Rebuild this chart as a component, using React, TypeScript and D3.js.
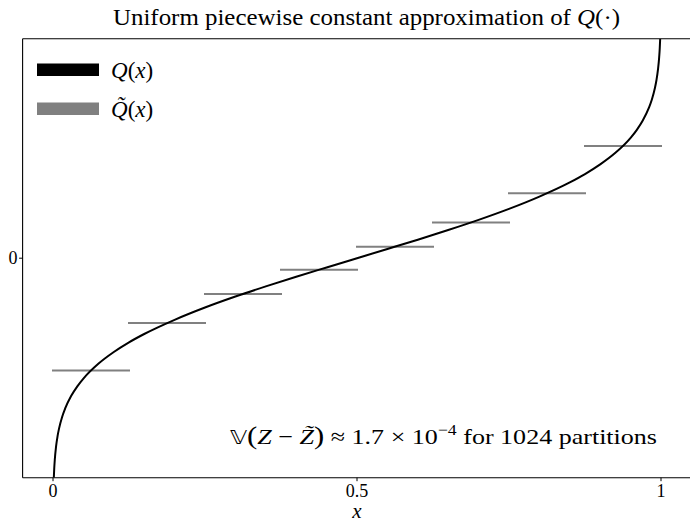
import React from "react";
import * as d3 from "d3";

// Q(x): standard normal quantile, sampled at these points
const curveX = [
  0.00135, 0.002, 0.003, 0.005, 0.0075, 0.01, 0.015, 0.02, 0.03, 0.04, 0.05,
  0.075, 0.1, 0.125, 0.15, 0.2, 0.25, 0.3, 0.35, 0.4, 0.45, 0.5, 0.55, 0.6,
  0.65, 0.7, 0.75, 0.8, 0.85, 0.875, 0.9, 0.925, 0.95, 0.96, 0.97, 0.98,
  0.985, 0.99, 0.9925, 0.995, 0.997, 0.998, 0.99865,
];
const curveQ = [
  -3.0, -2.878, -2.748, -2.576, -2.432, -2.326, -2.17, -2.054, -1.881, -1.751,
  -1.645, -1.44, -1.282, -1.15, -1.036, -0.842, -0.674, -0.524, -0.385,
  -0.253, -0.126, 0, 0.126, 0.253, 0.385, 0.524, 0.674, 0.842, 1.036, 1.15,
  1.282, 1.44, 1.645, 1.751, 1.881, 2.054, 2.17, 2.326, 2.432, 2.576, 2.748,
  2.878, 3.0,
];

// Q~(x): one constant level per uniform partition
const stepEdges = [0, 0.125, 0.25, 0.375, 0.5, 0.625, 0.75, 0.875, 1];
const stepValues = [-1.534, -0.887, -0.489, -0.157, 0.157, 0.489, 0.887, 1.534];

const xTicks = [0, 0.5, 1];
const xTickLabels = ["0", "0.5", "1"];
const yTicks = [0];
const yTickLabels = ["0"];

const W = 690;
const H = 523;
const left = 22.6;
const right = 691.4;
const top = 38.7;
const bottom = 477.7;

const FONT = "'Liberation Serif', 'DejaVu Serif', serif";

export default function App() {
  const x = d3.scaleLinear().domain([-0.05, 1.05]).range([left, right]);
  const y = d3.scaleLinear().domain([-3, 3]).range([bottom, top]);

  const pts: [number, number][] = curveX.map((v, i) => [v, curveQ[i]]);
  const line = d3
    .line<[number, number]>()
    .x((d) => x(d[0]))
    .y((d) => y(d[1]))
    .curve(d3.curveMonotoneX);

  return (
    <svg
      width={W}
      height={H}
      style={{ position: "absolute", left: 0, top: 0, background: "#fff" }}
      fontFamily={FONT}
    >
      <defs>
        <clipPath id="plotClip">
          <rect x={left} y={top} width={right - left} height={bottom - top} />
        </clipPath>
      </defs>

      {/* title */}
      <text
        x={113}
        y={25}
        fontSize={23}
        fill="#000"
        textLength={507}
        lengthAdjust="spacingAndGlyphs"
      >
        Uniform piecewise constant approximation of{" "}
        <tspan fontStyle="italic">Q</tspan>(·)
      </text>

      <g clipPath="url(#plotClip)">
        {stepValues.map((v, i) => (
          <line
            key={i}
            x1={x(stepEdges[i]) - 1}
            x2={x(stepEdges[i + 1]) + 1}
            y1={y(v)}
            y2={y(v)}
            stroke="#808080"
            strokeWidth={2}
          />
        ))}
        <path d={line(pts) || ""} fill="none" stroke="#000" strokeWidth={2} />
      </g>

      {/* spines */}
      <g stroke="#000" strokeWidth={1.1} fill="none">
        <line x1={left} x2={left} y1={top} y2={bottom} />
        <line x1={right} x2={right} y1={top} y2={bottom} />
        <line x1={left} x2={right} y1={top} y2={top} />
        <line x1={left} x2={right} y1={bottom} y2={bottom} />
      </g>

      {/* x axis */}
      {xTicks.map((t, i) => (
        <g key={i}>
          <line x1={x(t)} x2={x(t)} y1={bottom} y2={bottom + 3.5} stroke="#000" strokeWidth={1} />
          <text x={x(t)} y={497} fontSize={18} textAnchor="middle" fill="#000">
            {xTickLabels[i]}
          </text>
        </g>
      ))}
      <text x={x(0.5)} y={518} fontSize={21} fontStyle="italic" textAnchor="middle" fill="#000">
        x
      </text>

      {/* y axis */}
      {yTicks.map((t, i) => (
        <g key={i}>
          <line x1={left - 3.5} x2={left} y1={y(t)} y2={y(t)} stroke="#000" strokeWidth={1} />
          <text x={left - 5} y={y(t) + 6} fontSize={18} textAnchor="end" fill="#000">
            {yTickLabels[i]}
          </text>
        </g>
      ))}

      {/* legend */}
      <rect x={37} y={63.5} width={62} height={12.5} fill="#000" />
      <text x={111} y={78} fontSize={23} fill="#000">
        <tspan fontStyle="italic">Q</tspan>(<tspan fontStyle="italic">x</tspan>)
      </text>
      <rect x={37} y={102.5} width={62} height={12.5} fill="#808080" />
      <text x={111} y={117} fontSize={23} fill="#000">
        <tspan fontStyle="italic">Q̃</tspan>(<tspan fontStyle="italic">x</tspan>)
      </text>

      {/* variance annotation */}
      <text
        x={230}
        y={444}
        fontSize={22}
        fill="#000"
        textLength={427}
        lengthAdjust="spacingAndGlyphs"
      >
        <tspan fontFamily="'DejaVu Sans', sans-serif" fontSize={20}>𝕍</tspan>
        <tspan fontSize={26}>(</tspan>
        <tspan fontStyle="italic">Z</tspan> − <tspan fontStyle="italic">Z̃</tspan>
        <tspan fontSize={26}>)</tspan> ≈ 1.7 × 10
        <tspan fontSize={15} dy={-9}>−4</tspan>
        <tspan dy={9}> for 1024 partitions</tspan>
      </text>
    </svg>
  );
}
